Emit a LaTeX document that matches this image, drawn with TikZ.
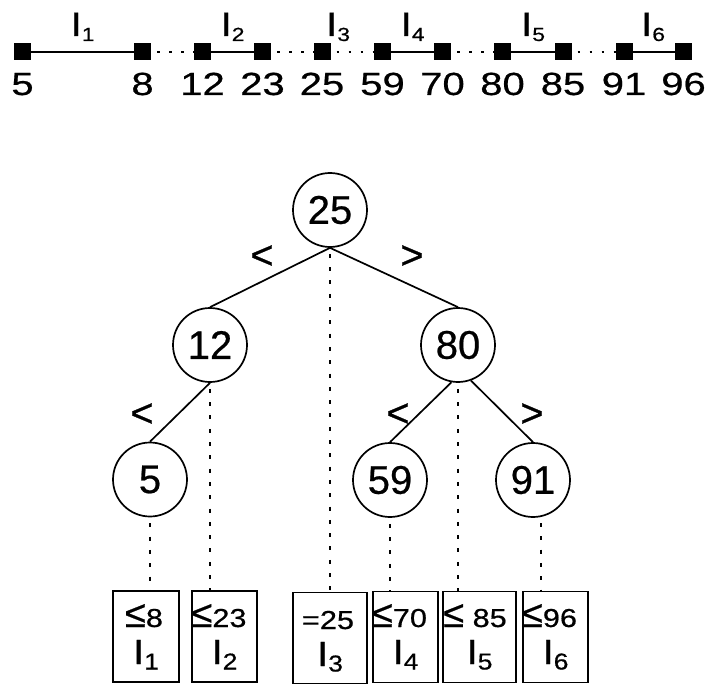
\documentclass[tikz,border=0pt]{standalone}
\usepackage{fontspec}
\setmainfont{Liberation Sans}[FakeBold=0.6]
\newfontfamily\FTree[FakeBold=0.6]{Liberation Sans}
\newfontfamily\FTopNum[FakeStretch=1.25,FakeBold=0.6]{Liberation Sans}
\newfontfamily\FLab[FakeStretch=1.2,FakeBold=0.6]{Liberation Sans}
\newfontfamily\FBoxNum[FakeStretch=1.18,FakeBold=0.6]{Liberation Sans}
\newfontfamily\FBoxLab[FakeStretch=1.15,FakeBold=0.6]{Liberation Sans}
\newcommand\topnum[1]{{\FTopNum\fontsize{32}{32}\selectfont #1}}
\newcommand\ilab[1]{{\FLab\fontsize{34}{34}\selectfont I\raisebox{-5pt}{\fontsize{19}{19}\selectfont #1}}}
\newcommand\blab[1]{{\FBoxLab\fontsize{35}{35}\selectfont I\raisebox{-5.5pt}{\fontsize{23}{23}\selectfont #1}}}
\newcommand\bnum[1]{{\FBoxNum\fontsize{26}{26}\selectfont #1}}
\newcommand\leqg{{\FTree\fontsize{38}{38}\selectfont ≤}}
\tikzset{
  sq/.style={fill=black, minimum size=17pt, inner sep=0pt, outer sep=0pt},
  tn/.style={circle, draw, line width=1.7pt, minimum size=74pt, inner sep=0pt, font=\FTree\fontsize{40}{40}\selectfont},
  edge/.style={line width=1.7pt},
  hsolid/.style={line width=1.8pt},
  hdots/.style={line width=2.2pt, dash pattern=on 2.5pt off 9.5pt, dash phase=6pt},
  vdots/.style={line width=2pt, dash pattern=on 4pt off 9.3pt, dash phase=-6pt},
  leaf/.style={draw, line width=1.8pt, inner sep=0pt, minimum height=91pt},
  txt/.style={inner sep=0pt, anchor=base},
  cmp/.style={inner sep=0pt, font=\FTree\fontsize{40}{40}\selectfont},
}
\begin{document}
\begin{tikzpicture}[x=1pt,y=-1pt]
\useasboundingbox (0,0) rectangle (706,687);
% number line
\foreach \n/\x in {5/22.5, 8/142.5, 12/202.5, 23/262.5, 25/322, 59/382.5, 70/442.5, 80/502.5, 85/563, 91/624, 96/683.5}{
  \node[sq] (s\n) at (\x,52) {};
  \node[txt] (t\n) at (\x,95) {\topnum{\n}};
}
\draw[hsolid] (s5) -- (s8);
\draw[hsolid] (s12) -- (s23);
\draw[hsolid] (s59) -- (s70);
\draw[hsolid] (s80) -- (s85);
\draw[hsolid] (s91) -- (s96);
\draw[hdots] (s8) -- (s12);
\draw[hdots] (s23) -- (s25);
\draw[hdots] (s25) -- (s59);
\draw[hdots] (s70) -- (s80);
\draw[hdots] (s85) -- (s91);
\node[txt] (i1) at (82.5,36) {\ilab{1}};
\node[txt] (i2) at (232.5,36) {\ilab{2}};
\node[txt] (i3) at (338,36) {\ilab{3}};
\node[txt] (i4) at (412.5,36) {\ilab{4}};
\node[txt] (i5) at (533,36) {\ilab{5}};
\node[txt] (i6) at (653,36) {\ilab{6}};
% tree
\node[tn] (r) at (330,210) {25};
\node[tn] (a) at (210,345) {12};
\node[tn] (b) at (458,345) {80};
\node[tn] (c) at (150,479.5) {5};
\node[tn] (d) at (390,480) {59};
\node[tn] (e) at (533,480) {91};
\draw[edge] (r.south) -- (a.north);
\draw[edge] (r.south) -- (b.north);
\draw[edge] (a.south) -- (c.north);
\draw[edge] (b.-100) -- (d.north);
\draw[edge] (b.-70) -- (e.north);
\node[cmp] (l1) at (262,257) {<};
\node[cmp] (g1) at (412,257) {>};
\node[cmp] (l2) at (142,415) {<};
\node[cmp] (l3) at (398,415) {<};
\node[cmp] (g3) at (532,415) {>};
% leaves
\node[leaf, minimum width=66pt] (b1) at (146,636.5) {};
\node[leaf, minimum width=65pt] (b2) at (224.5,636.5) {};
\node[leaf, minimum width=74pt] (b3) at (330,638) {};
\node[leaf, minimum width=65pt] (b4) at (405.5,637) {};
\node[leaf, minimum width=73pt] (b5) at (479.5,637) {};
\node[leaf, minimum width=65pt] (b6) at (555.5,637) {};
\node[txt] (b1n) at (144,627) {\leqg\bnum{8}};
\node[txt] (b2n) at (219,627) {\leqg\bnum{23}};
\node[txt] (b3n) at (328,629) {\bnum{=25}};
\node[txt] (b4n) at (399.5,627) {\leqg\bnum{70}};
\node[txt] (b5n) at (475,627) {\leqg\bnum{\ 85}};
\node[txt] (b6n) at (549.5,627) {\leqg\bnum{96}};
\node[txt] (b1l) at (146,664) {\blab{1}};
\node[txt] (b2l) at (224.5,664) {\blab{2}};
\node[txt] (b3l) at (330,666) {\blab{3}};
\node[txt] (b4l) at (405.5,664) {\blab{4}};
\node[txt] (b5l) at (479.5,664) {\blab{5}};
\node[txt] (b6l) at (555.5,664) {\blab{6}};
% dotted projections
\draw[vdots] (r.south) -- (r.south |- b3.north);
\draw[vdots] (a.south) -- (a.south |- b2.north);
\draw[vdots] (c.south) -- (c.south |- b1.north);
\draw[vdots] (d.south) -- (d.south |- b4.north);
\draw[vdots] (b.south) -- (b.south |- b5.north);
\draw[vdots] (e.-78) -- (e.-78 |- b6.north);
\end{tikzpicture}
\end{document}
